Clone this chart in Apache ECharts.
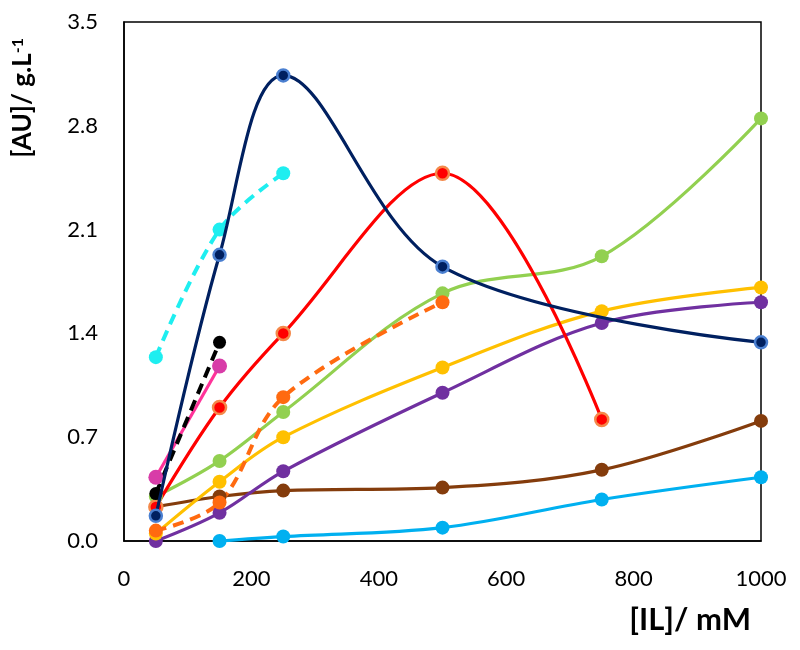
<!DOCTYPE html>
<html>
<head>
<meta charset="utf-8">
<script src="https://cdn.jsdelivr.net/npm/echarts@6/dist/echarts.min.js"></script>
<style>html,body{margin:0;padding:0;background:#fff}#c{width:800px;height:650px}</style>
</head>
<body>
<div id="c"></div>
<script>
// [IL] concentrations (mM)
const xNavy = [50, 150, 250, 500, 1000];
const yNavy = [0.17, 1.93, 3.14, 1.85, 1.34];
const xCyan = [50, 150, 250];
const yCyan = [1.24, 2.10, 2.48];
const xBlack = [50, 150];
const yBlack = [0.32, 1.34];
const xPink = [50, 150];
const yPink = [0.43, 1.18];
const xRed = [50, 150, 250, 500, 750];
const yRed = [0.23, 0.90, 1.40, 2.48, 0.82];
const xOrange = [50, 150, 250, 500];
const yOrange = [0.07, 0.26, 0.97, 1.61];
const xGreen = [50, 150, 250, 500, 750, 1000];
const yGreen = [0.30, 0.54, 0.87, 1.67, 1.92, 2.85];
const xYellow = [50, 150, 250, 500, 750, 1000];
const yYellow = [0.05, 0.40, 0.70, 1.17, 1.55, 1.71];
const xPurple = [50, 150, 250, 500, 750, 1000];
const yPurple = [0.00, 0.19, 0.47, 1.00, 1.47, 1.61];
const xBrown = [50, 150, 250, 500, 750, 1000];
const yBrown = [0.23, 0.30, 0.34, 0.36, 0.48, 0.81];
const xLightBlue = [150, 250, 500, 750, 1000];
const yLightBlue = [0.00, 0.03, 0.09, 0.28, 0.43];

const xTicks = [0, 200, 400, 600, 800, 1000];
const yTicks = [0.0, 0.7, 1.4, 2.1, 2.8, 3.5];

function pairs(xs, ys) { return xs.map((x, i) => [x, ys[i]]); }

function mk(name, xs, ys, color, opts) {
  opts = opts || {};
  return {
    name: name,
    type: 'line',
    data: pairs(xs, ys),
    smooth: opts.smooth === undefined ? 0.35 : opts.smooth,
    symbol: 'circle',
    symbolSize: opts.size || 14,
    z: opts.z || 2,
    lineStyle: { color: color, width: opts.dash ? 4 : 3.2, type: opts.dash ? [11, 7] : 'solid', cap: 'butt' },
    itemStyle: {
      color: opts.fill || color,
      borderColor: opts.border || (opts.fill || color),
      borderWidth: opts.border ? 2.5 : 0
    },
    emphasis: { disabled: true },
    animation: false
  };
}

const chart = echarts.init(document.getElementById('c'), null, { renderer: 'canvas' });
const labelFont = 'Lato, "Liberation Sans", sans-serif';
chart.setOption({
  backgroundColor: '#ffffff',
  animation: false,
  grid: { left: 124, right: 39, top: 22, bottom: 109, show: true, borderColor: '#000', borderWidth: 1.5, backgroundColor: 'transparent' },
  xAxis: {
    type: 'value', min: xTicks[0], max: xTicks[xTicks.length - 1], interval: 200,
    axisLine: { show: true, lineStyle: { color: '#000', width: 1.5 } },
    axisTick: { show: false },
    splitLine: { show: false },
    axisLabel: { color: '#000', fontSize: 22, fontFamily: labelFont, margin: 27, formatter: v => String(v) },
    name: '[IL]/ mM',
    nameLocation: 'end',
    nameGap: -10,
    nameTextStyle: { color: '#000', fontSize: 31, fontWeight: 'bold', fontFamily: labelFont, align: 'right', verticalAlign: 'top', padding: [63, 0, 0, 0] }
  },
  yAxis: {
    type: 'value', min: yTicks[0], max: yTicks[yTicks.length - 1], interval: 0.7,
    axisLine: { show: true, lineStyle: { color: '#000', width: 1.5 } },
    axisTick: { show: false },
    splitLine: { show: false },
    axisLabel: { color: '#000', fontSize: 22, fontFamily: labelFont, margin: 26, formatter: v => v.toFixed(1) },
    name: '{a|[AU]/ g.L}{s|-1}',
    nameLocation: 'end',
    nameRotate: 90,
    nameGap: -16,
    nameTextStyle: {
      color: '#000', fontFamily: labelFont, align: 'right', verticalAlign: 'bottom', padding: [0, 0, 88, 0],
      rich: {
        a: { fontSize: 26, fontWeight: 'bold', fontFamily: labelFont, color: '#000' },
        s: { fontSize: 16, fontWeight: 'bold', fontFamily: labelFont, color: '#000', verticalAlign: 'top', padding: [0, 0, 10, 0] }
      }
    }
  },
  series: [
    mk('lightblue', xLightBlue, yLightBlue, '#00B0F0'),
    mk('brown', xBrown, yBrown, '#843C0C'),
    mk('purple', xPurple, yPurple, '#7030A0'),
    mk('yellow', xYellow, yYellow, '#FFC000'),
    mk('green', xGreen, yGreen, '#92D050'),
    mk('orange', xOrange, yOrange, '#FF6A10', { dash: true }),
    mk('red', xRed, yRed, '#FF0000', { border: '#F4894A', size: 13 }),
    mk('pink', xPink, yPink, '#FF3399', { fill: '#D83CA8', size: 15 }),
    mk('black', xBlack, yBlack, '#000000', { dash: true, size: 13 }),
    mk('cyan', xCyan, yCyan, '#1EEEF0', { dash: true, size: 14 }),
    mk('navy', xNavy, yNavy, '#002060', { border: '#4A7FD0', size: 12, z: 3 })
  ]
});
</script>
</body>
</html>
